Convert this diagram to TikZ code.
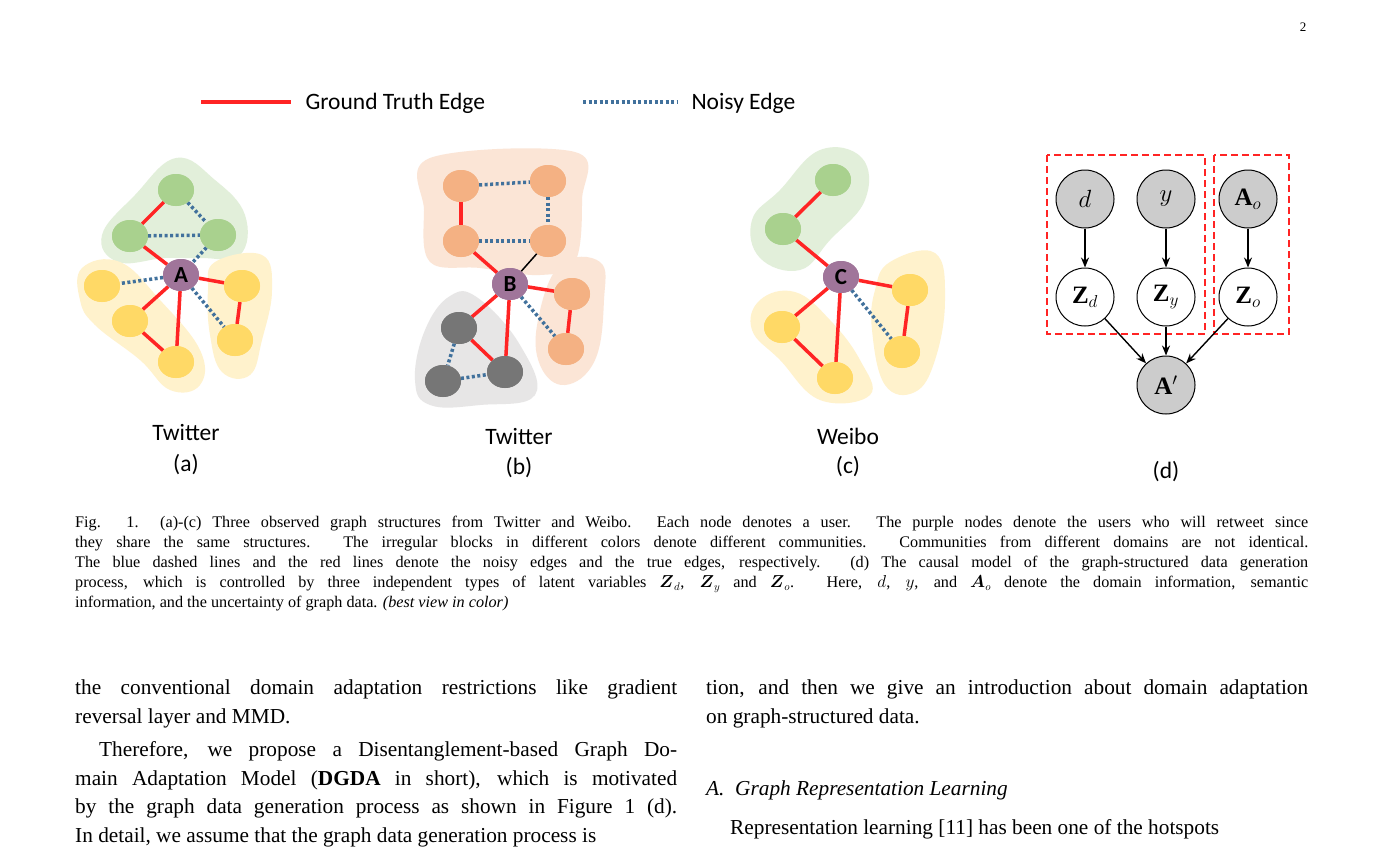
\documentclass[tikz,border=0pt]{standalone}
\usepackage{amsmath}
\usepackage{fontspec}
\setmainfont{Liberation Serif}
\newfontfamily\calib{Carlito}
\usetikzlibrary{shapes.geometric,arrows.meta}
\definecolor{gnode}{HTML}{A9D18E}
\definecolor{ynode}{HTML}{FFD966}
\definecolor{onode}{HTML}{F4B183}
\definecolor{knode}{HTML}{767676}
\definecolor{pnode}{HTML}{A0759A}
\definecolor{gblob}{HTML}{E2EFDA}
\definecolor{yblob}{HTML}{FFF2CC}
\definecolor{oblob}{HTML}{FBE5D6}
\definecolor{kblob}{HTML}{E7E6E6}
\definecolor{redE}{HTML}{FF2424}
\definecolor{blueE}{HTML}{41719C}
\begin{document}
\begin{tikzpicture}[x=1pt,y=-1pt,
 gn/.style={ellipse,minimum width=36pt,minimum height=32pt,inner sep=0pt},
 g/.style={gn,fill=gnode}, yl/.style={gn,fill=ynode}, o/.style={gn,fill=onode},
 k/.style={gn,fill=knode}, p/.style={gn,fill=pnode,font=\calib\bfseries\fontsize{23}{23}\selectfont},
 re/.style={draw=redE,line width=3.5pt},
 be/.style={draw=blueE,line width=3.5pt,dash pattern=on 3pt off 2.5pt},
 ke/.style={draw=black,line width=1.5pt},
 lab/.style={font=\calib\fontsize{23.5}{25}\selectfont},
 cn/.style={circle,draw=black,line width=1pt,minimum size=58pt,inner sep=0pt,font=\fontsize{25}{27}\selectfont},
 gc/.style={cn,fill=black!20},
 ar/.style={-{Stealth[length=10pt,width=8pt]},line width=1.4pt},
 box/.style={draw=redE,line width=2.2pt,dash pattern=on 7pt off 4pt}]
\useasboundingbox[fill=white] (0,0) rectangle (1383,847);
\node[font=\fontsize{13}{14}\selectfont] (pg) at (1303,27) {2};
% legend
\coordinate (l1a) at (201,102); \coordinate (l1b) at (291,102);
\draw[re] (l1a) -- (l1b);
\node[lab,anchor=west] (lt1) at (302,103) {Ground Truth Edge};
\coordinate (l2a) at (583,102); \coordinate (l2b) at (677,102);
\draw[be] (l2a) -- (l2b);
\node[lab,anchor=west] (lt2) at (688,103) {Noisy Edge};
% (a) blobs
\fill[gblob] plot[smooth cycle,tension=0.7] coordinates {(176,158)(215,180)(245,215)(240,255)(200,258)(165,258)(118,262)(102,235)(135,195)};
\fill[yblob] plot[smooth cycle,tension=0.7] coordinates {(82,268)(120,262)(160,300)(200,350)(200,385)(170,390)(140,360)(95,325)(80,300)};
\fill[yblob] plot[smooth cycle,tension=0.7] coordinates {(215,262)(262,255)(272,290)(262,340)(250,375)(222,372)(210,335)(208,290)};
\node[g] (a1) at (176,190) {}; \node[g] (a2) at (130,236) {}; \node[g] (a3) at (218,235) {};
\node[yl] (a4) at (102,286) {}; \node[yl] (a5) at (130,321) {}; \node[yl] (a6) at (176,362) {};
\node[yl] (a7) at (242,286) {}; \node[yl] (a8) at (235,340) {};
\node[p] (A) at (181,275) {A};
% (b) blobs
\fill[oblob] plot[smooth cycle,tension=0.6] coordinates {(430,158)(575,152)(582,200)(575,262)(540,275)(480,268)(430,262)(424,210)};
\fill[oblob] plot[smooth cycle,tension=0.7] coordinates {(560,265)(600,262)(604,300)(595,360)(565,385)(540,365)(538,320)};
\fill[kblob] plot[smooth cycle,tension=0.7] coordinates {(450,296)(478,298)(520,345)(535,395)(480,405)(430,405)(415,380)(425,330)};
\node[o] (b1) at (461,186) {}; \node[o] (b2) at (548,181) {}; \node[o] (b3) at (461,241) {}; \node[o] (b4) at (548,241) {};
\node[o] (b5) at (572,294) {}; \node[o] (b6) at (566,349) {};
\node[k] (b7) at (459,328) {}; \node[k] (b8) at (443,381) {}; \node[k] (b9) at (505,372) {};
\node[p] (B) at (510,284) {B};
% (c) blobs
\fill[gblob] plot[smooth cycle,tension=0.7] coordinates {(820,150)(862,158)(865,200)(830,240)(800,270)(760,258)(752,220)(780,190)};
\fill[yblob] plot[smooth cycle,tension=0.7] coordinates {(760,300)(795,292)(830,320)(860,360)(870,395)(820,400)(780,360)(752,330)};
\fill[yblob] plot[smooth cycle,tension=0.7] coordinates {(890,262)(935,253)(945,300)(935,360)(915,392)(885,385)(872,330)(875,290)};
\node[g] (c1) at (833,180) {}; \node[g] (c2) at (783,229) {};
\node[yl] (c3) at (782,327) {}; \node[yl] (c4) at (835,378) {};
\node[yl] (c5) at (910,290) {}; \node[yl] (c6) at (902,352) {};
\node[p] (C) at (841,277) {C};
% edges (a)
\draw[re] (a1) -- (a2); \draw[re] (a2) -- (A); \draw[re] (A) -- (a5); \draw[re] (A) -- (a6);
\draw[re] (a5) -- (a6); \draw[re] (A) -- (a7); \draw[re] (a7) -- (a8);
\draw[be] (a1) -- (a3); \draw[be] (a2) -- (a3); \draw[be] (a3) -- (A); \draw[be] (A) -- (a4); \draw[be] (A) -- (a8);
% edges (b)
\draw[re] (b1) -- (b3); \draw[be] (b1) -- (b2); \draw[be] (b2) -- (b4); \draw[be] (b3) -- (b4);
\draw[ke] (b4) -- (B); \draw[re] (b3) -- (B); \draw[re] (B) -- (b5); \draw[re] (b5) -- (b6); \draw[be] (B) -- (b6);
\draw[re] (B) -- (b7); \draw[re] (B) -- (b9); \draw[re] (b7) -- (b9); \draw[be] (b7) -- (b8); \draw[be] (b8) -- (b9);
% edges (c)
\draw[re] (c1) -- (c2); \draw[re] (c2) -- (C); \draw[re] (C) -- (c3); \draw[re] (C) -- (c4); \draw[re] (c3) -- (c4);
\draw[re] (C) -- (c5); \draw[re] (c5) -- (c6); \draw[be] (C) -- (c6);
% nodes on top of edges
\node[g] at (a1) {}; \node[g] at (a2) {}; \node[g] at (a3) {};
\node[yl] at (a4) {}; \node[yl] at (a5) {}; \node[yl] at (a6) {}; \node[yl] at (a7) {}; \node[yl] at (a8) {};
\node[p] at (A) {A};
\node[o] at (b1) {}; \node[o] at (b2) {}; \node[o] at (b3) {}; \node[o] at (b4) {}; \node[o] at (b5) {}; \node[o] at (b6) {};
\node[k] at (b7) {}; \node[k] at (b8) {}; \node[k] at (b9) {};
\node[p] at (B) {B};
\node[g] at (c1) {}; \node[g] at (c2) {};
\node[yl] at (c3) {}; \node[yl] at (c4) {}; \node[yl] at (c5) {}; \node[yl] at (c6) {};
\node[p] at (C) {C};
% labels
\node[lab] (ta) at (186,432) {Twitter}; \node[lab] (la) at (186,465) {(a)};
\node[lab] (tb) at (519,436) {Twitter}; \node[lab] (lb) at (519,468) {(b)};
\node[lab] (tc) at (848,436) {Weibo}; \node[lab] (lc) at (848,467) {(c)};
\node[lab] (ld) at (1166,472) {(d)};
% (d)
\draw[box] (1047,155) rectangle (1205,334);
\draw[box] (1214,155) rectangle (1289,334);
\node[gc] (d) at (1085,199) {$d$};
\node[gc] (y) at (1166,199) {$y$};
\node[gc] (Ao) at (1248,199) {$\mathbf{A}_o$};
\node[cn,fill=white] (Zd) at (1085,297) {$\mathbf{Z}_d$};
\node[cn,fill=white] (Zy) at (1166,297) {$\mathbf{Z}_y$};
\node[cn,fill=white] (Zo) at (1248,297) {$\mathbf{Z}_o$};
\node[gc] (Ap) at (1166,385) {$\mathbf{A}'$};
\draw[ar] (d) -- (Zd); \draw[ar] (y) -- (Zy); \draw[ar] (Ao) -- (Zo);
\draw[ar] (Zd) -- (Ap); \draw[ar] (Zy) -- (Ap); \draw[ar] (Zo) -- (Ap);
% caption
\node[anchor=north west,inner sep=0pt,text width=1233pt,align=justify,font=\fontsize{16.2}{20}\selectfont] (cap) at (75,516)
{Fig. 1.\ \ (a)-(c) Three observed graph structures from Twitter and Weibo. Each node denotes a user. The purple nodes denote the users who will retweet since\linebreak they share the same structures. The irregular blocks in different colors denote different communities. Communities from different domains are not identical.\linebreak The blue dashed lines and the red lines denote the noisy edges and the true edges, respectively. (d) The causal model of the graph-structured data generation\linebreak process, which is controlled by three independent types of latent variables $\boldsymbol{Z}_d$, $\boldsymbol{Z}_y$ and $\boldsymbol{Z}_o$. Here, $d$, $y$, and $\boldsymbol{A}_o$ denote the domain information, semantic\linebreak information, and the uncertainty of graph data. \textit{(best view in color)}};
% body
\node[anchor=north west,inner sep=0pt,text width=602pt,align=justify,font=\fontsize{21.3}{28.7}\selectfont] (bl) at (75,680)
{\parindent=0pt the conventional domain adaptation restrictions like gradient\linebreak reversal layer and MMD.\par\vspace{4pt}
\parindent=24pt Therefore, we propose a Disentanglement-based Graph Do-\linebreak main Adaptation Model (\textbf{DGDA} in short), which is motivated\linebreak by the graph data generation process as shown in Figure 1 (d).\linebreak In detail, we assume that the graph data generation process is};
\node[anchor=north west,inner sep=0pt,text width=602pt,align=justify,font=\fontsize{21.3}{28.7}\selectfont] (br) at (706,680)
{tion, and then we give an introduction about domain adaptation\linebreak on graph-structured data.};
\node[anchor=base west,inner sep=0pt,font=\fontsize{21.3}{24}\itshape] (sec) at (706,795) {A.\ \ Graph Representation Learning};
\node[anchor=base west,inner sep=0pt,font=\fontsize{21.3}{24}\selectfont] (br2) at (730,834)
{Representation learning [11] has been one of the hotspots};
\end{tikzpicture}
\end{document}
